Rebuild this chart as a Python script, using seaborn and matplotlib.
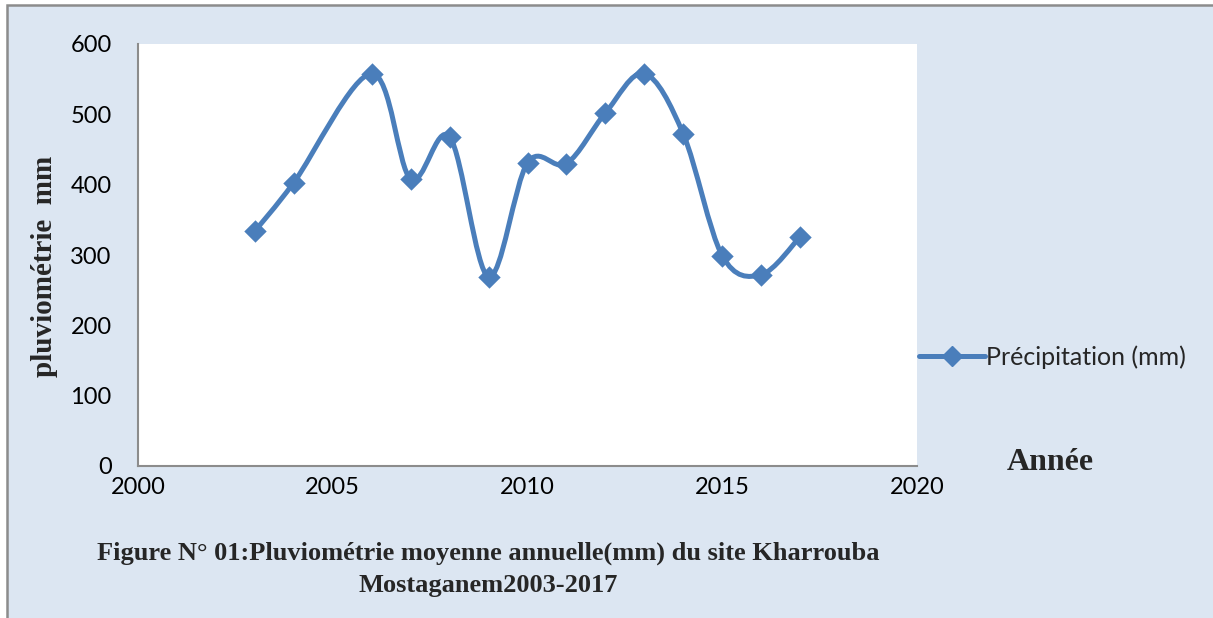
"""
pluviometrie moyenne annuelle - Kharrouba Mostaganem 2003-2017
"""

import seaborn as sns
import matplotlib.pyplot as plt
import matplotlib.patches as mpatches
from matplotlib.path import Path
from matplotlib.lines import Line2D
import pandas as pd
import numpy as np

years = [2003, 2004, 2006, 2007, 2008, 2009, 2010, 2011, 2012, 2013, 2014, 2015, 2016, 2017]
precip = [334, 403, 558, 408, 468, 269, 431, 430, 502, 558, 472, 299, 272, 326]
series_name = "Précipitation (mm)"
x_ticks = [2000, 2005, 2010, 2015, 2020]
y_ticks = [0, 100, 200, 300, 400, 500, 600]

blue = "#4A7EBB"
bg = "#DCE6F2"
grey = "#8C8C8C"


def smooth_path(x, y):
    """excel-like smoothed line (catmull-rom as bezier)"""
    pts = np.column_stack([x, y]).astype(float)
    pad = np.vstack([pts[0], pts, pts[-1]])
    verts = [pts[0]]
    codes = [Path.MOVETO]
    for i in range(1, len(pad) - 2):
        p0, p1, p2, p3 = pad[i - 1], pad[i], pad[i + 1], pad[i + 2]
        verts += [p1 + (p2 - p0) / 6, p2 - (p3 - p1) / 6, p2]
        codes += [Path.CURVE4] * 3
    return Path(verts, codes)


df = pd.DataFrame({"year": years, "precip": precip})

sns.set_theme(style="white")
plt.rcParams["font.family"] = ["Lato", "DejaVu Sans"]

fig = plt.figure(figsize=(12.13, 6.18), dpi=100, facecolor="white")
x0, y0 = 7 / 1213, 1 - 4.5 / 618
fig.patches.append(mpatches.Rectangle((x0, -0.1), 1.2, y0 + 0.1, transform=fig.transFigure,
                                      facecolor=bg, edgecolor="none", zorder=-10))
fig.lines.append(Line2D([x0, x0, 1.1], [-0.1, y0, y0], transform=fig.transFigure,
                        color=grey, linewidth=1.8, solid_joinstyle="miter"))

ax = fig.add_axes([138 / 1213, 1 - 466 / 618, (917 - 138) / 1213, (466 - 44) / 618])
ax.set_facecolor("white")

ax.add_patch(mpatches.PathPatch(smooth_path(years, precip), facecolor="none",
                                edgecolor=blue, linewidth=3.6, capstyle="round",
                                joinstyle="round", zorder=2))
sns.scatterplot(data=df, x="year", y="precip", marker="D", s=130, color=blue,
                edgecolor=blue, linewidth=0, ax=ax, zorder=3, legend=False)

ax.set_xlim(2000, 2020)
ax.set_ylim(0, 600)
ax.set_xticks(x_ticks)
ax.set_yticks(y_ticks)
ax.tick_params(axis="both", length=0, labelsize=17, colors="black")
ax.tick_params(axis="y", pad=19)
ax.tick_params(axis="x", pad=8)

ax.spines[["right", "top"]].set_visible(False)
for s in ["left", "bottom"]:
    ax.spines[s].set_color(grey)
    ax.spines[s].set_linewidth(1.5)

ax.set_xlabel("")
ax.set_ylabel("")
fig.text(45 / 1213, 1 - 266 / 618, "pluviométrie  mm", rotation=90, ha="center",
         va="center", fontsize=21, fontweight="bold", family="Liberation Serif")
fig.text(1050 / 1213, 1 - 463 / 618, "Année", ha="center", va="center",
         fontsize=23, fontweight="bold", family="Liberation Serif")

handle = Line2D([], [], color=blue, linewidth=3.6, marker="D", markersize=10,
                solid_capstyle="round")
fig.legend([handle], [series_name], loc="center left",
           bbox_to_anchor=(919 / 1213, 1 - 357 / 618), frameon=False,
           fontsize=18, handlelength=2.65, handletextpad=0.05, borderaxespad=0,
           borderpad=0)

fig.text(488 / 1213, 1 - 569 / 618,
         "Figure N° 01:Pluviométrie moyenne annuelle(mm) du site Kharrouba\nMostaganem2003-2017",
         ha="center", va="center", fontsize=19, fontweight="bold",
         family="Liberation Serif", linespacing=1.5)

fig.savefig("out.png", dpi=100, facecolor=fig.get_facecolor())
